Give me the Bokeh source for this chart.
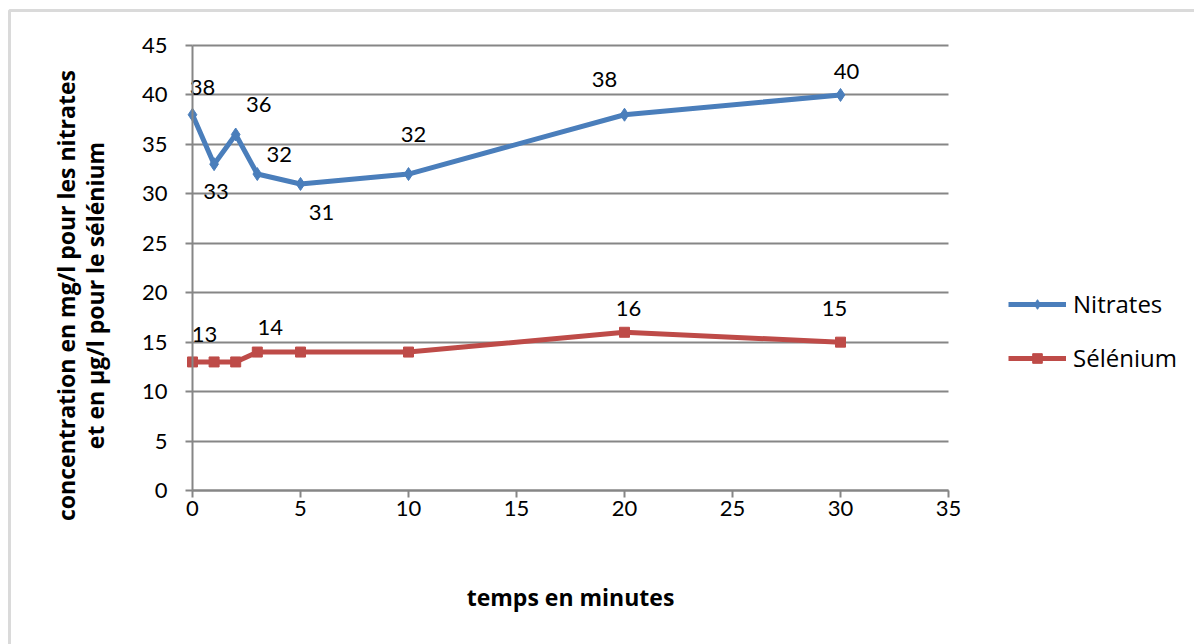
import math
from bokeh.plotting import figure
from bokeh.models import (ColumnDataSource, Legend, LegendItem, BoxAnnotation,
                          FixedTicker, Range1d, Label)
from bokeh.core.properties import value
from bokeh.embed import file_html
from bokeh.resources import INLINE

# --- data -------------------------------------------------------------
minutes = [0, 1, 2, 3, 5, 10, 20, 30]
nitrates = [38, 33, 36, 32, 31, 32, 38, 40]
selenium = [13, 13, 13, 14, 14, 14, 16, 15]
selenium_labelled = [0, 3, 6, 7]          # points whose value is printed
x_ticks = [0, 5, 10, 15, 20, 25, 30, 35]
y_ticks = [0, 5, 10, 15, 20, 25, 30, 35, 40, 45]
x_bounds = (0, 35)
y_bounds = (0, 45)

# --- styling / layout -------------------------------------------------
W, H = 1194, 644
# plot area in canvas pixels
PL, PR, PT, PB = 192, 948, 45, 490
NUM_FONT = "Lato"
TXT_FONT = "Open Sans"
GRID = "#868686"
BLUE = "#4A7EBB"
RED = "#BE4B48"

# pixel offsets of the value labels relative to their points
nit_dx = [10, 2, 23, 22, 21, 5, -20, 6]
nit_dy = [-27, 27, -30, -20, 29, -40, -35, -23]
sel_dx = [12, 13, 4, -6]
sel_dy = [-27, -25, -24, -34]

# the frame covers the whole canvas; ranges are widened so that the
# axis bounds land on the plot area
kx = (PR - PL) / (x_bounds[1] - x_bounds[0])
ky = (PB - PT) / (y_bounds[1] - y_bounds[0])
x_range = Range1d(x_bounds[0] - PL / kx, x_bounds[1] + (W - PR) / kx)
y_range = Range1d(y_bounds[0] - (H - PB) / ky, y_bounds[1] + PT / ky)

p = figure(width=W, height=H, output_backend="svg", toolbar_location=None,
           x_range=x_range, y_range=y_range,
           min_border=0, min_border_left=0, min_border_right=0,
           min_border_top=0, min_border_bottom=0)
p.outline_line_color = None
p.background_fill_color = "white"
p.border_fill_color = "white"

# axes
for ax in (p.xaxis[0], p.yaxis[0]):
    ax.fixed_location = 0
    ax.axis_line_color = GRID
    ax.axis_line_width = 2
    ax.major_tick_line_color = GRID
    ax.major_tick_line_width = 2
    ax.major_tick_out = 7
    ax.major_tick_in = 0
    ax.minor_tick_line_color = None
    ax.major_label_text_font = NUM_FONT
    ax.major_label_text_font_size = "22px"
    ax.major_label_text_color = "black"
    ax.axis_label_text_font = TXT_FONT
    ax.axis_label_text_font_style = "bold"
    ax.axis_label_text_font_size = "23px"
    ax.axis_label_text_color = "black"

p.xaxis.bounds = x_bounds
p.yaxis.bounds = y_bounds
p.xaxis.ticker = FixedTicker(ticks=x_ticks)
p.yaxis.ticker = FixedTicker(ticks=y_ticks)
p.xaxis.major_label_standoff = 3
p.yaxis.major_label_standoff = 18
p.xaxis.axis_label = "temps en minutes"
p.xaxis.axis_label_standoff = 62

# horizontal gridlines over the plot area
p.xgrid.grid_line_color = None
p.ygrid.grid_line_color = GRID
p.ygrid.grid_line_width = 2
p.ygrid.ticker = FixedTicker(ticks=y_ticks)
p.ygrid.bounds = y_bounds
p.ygrid.cross_bounds = x_bounds

# two-line y title
p.add_layout(Label(x=80, y=295, x_units="canvas", y_units="canvas",
                   text="concentration en mg/l pour les nitrates\n"
                        "et en µg/l pour le sélénium",
                   angle=math.pi / 2, text_align="center",
                   text_baseline="middle", text_font=TXT_FONT,
                   text_font_style="bold", text_font_size="23px",
                   text_line_height=0.9, text_color="black"))

# series
nit_src = ColumnDataSource(dict(x=minutes, y=nitrates,
                                lbl=[str(v) for v in nitrates],
                                dx=nit_dx, dy=nit_dy))
sel_src = ColumnDataSource(dict(x=minutes, y=selenium))
sel_lbl_src = ColumnDataSource(dict(
    x=[minutes[i] for i in selenium_labelled],
    y=[selenium[i] for i in selenium_labelled],
    lbl=[str(selenium[i]) for i in selenium_labelled],
    dx=sel_dx, dy=sel_dy))

nl = p.line("x", "y", source=nit_src, line_color=BLUE, line_width=5)
nm = p.scatter("x", "y", source=nit_src, marker="diamond", size=13,
               fill_color=BLUE, line_color=BLUE)
sl = p.line("x", "y", source=sel_src, line_color=RED, line_width=5)
sm = p.scatter("x", "y", source=sel_src, marker="square", size=10,
               fill_color=RED, line_color=RED)

for src in (nit_src, sel_lbl_src):
    p.text("x", "y", text="lbl", source=src, x_offset="dx", y_offset="dy",
           text_font=value(NUM_FONT), text_font_size="22px",
           text_color="black", text_align="center", text_baseline="middle")

legend = Legend(items=[LegendItem(label="Nitrates", renderers=[nl, nm]),
                       LegendItem(label="Sélénium", renderers=[sl, sm])],
                location=(1008, 270), orientation="vertical",
                glyph_width=58, glyph_height=24, label_height=24,
                label_standoff=7, spacing=21, padding=0, margin=0,
                border_line_color=None, background_fill_alpha=0,
                label_text_font=TXT_FONT, label_text_font_size="24px",
                label_text_color="black")
p.add_layout(legend)

# chart-area border (top and left edges visible)
p.add_layout(BoxAnnotation(left=9, right=W + 20, top=10, bottom=H + 20,
                           left_units="canvas", right_units="canvas",
                           top_units="canvas", bottom_units="canvas",
                           fill_alpha=0, line_color="#868686", line_width=3))

open("out.html", "w").write(file_html(p, INLINE))
